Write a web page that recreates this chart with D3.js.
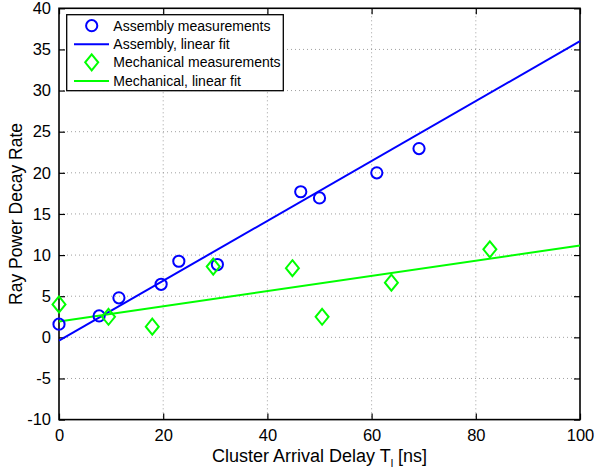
<!DOCTYPE html>
<html>
<head>
<meta charset="utf-8">
<script src="https://cdn.jsdelivr.net/npm/d3@7"></script>
<style>
  body { margin: 0; background: #fff; }
  text { font-family: "Liberation Sans", Arial, sans-serif; }
</style>
</head>
<body>
<svg id="chart"></svg>
<script>
// Assembly measurements (circles)
const assemblyX = [0, 7.7, 11.5, 19.6, 23, 30.4, 46.4, 50, 61, 69.1];
const assemblyY = [1.6, 2.6, 4.8, 6.45, 9.25, 8.85, 17.7, 16.95, 20, 22.95];
// Mechanical measurements (diamonds)
const mechanicalX = [0, 9.5, 17.9, 29.6, 44.8, 50.5, 63.8, 82.7];
const mechanicalY = [4.0, 2.5, 1.3, 8.6, 8.4, 2.5, 6.65, 10.7];
// Linear fits [intercept, slope]
const assemblyFit = [-0.4, 0.364];
const mechanicalFit = [1.92, 0.0925];

const xTicks = [0, 20, 40, 60, 80, 100];
const yTicks = [-10, -5, 0, 5, 10, 15, 20, 25, 30, 35, 40];
const legendLabels = ["Assembly measurements", "Assembly, linear fit",
                      "Mechanical measurements", "Mechanical, linear fit"];

const blue = "#0000ff", green = "#00ff00";

const width = 595, height = 470;
const margin = { top: 8.3, right: 15, bottom: 50.4, left: 59 };
const innerW = width - margin.left - margin.right;
const innerH = height - margin.top - margin.bottom;

const svg = d3.select("#chart").attr("width", width).attr("height", height);
const chart = svg.append("g").attr("transform", `translate(${margin.left},${margin.top})`);

const xScale = d3.scaleLinear().domain([0, 100]).range([0, innerW]);
const yScale = d3.scaleLinear().domain([-10, 40]).range([innerH, 0]);

// Grid lines (dotted)
chart.append("g").selectAll("line.gx")
  .data(xTicks.slice(1, -1))
  .join("line")
  .attr("x1", d => xScale(d)).attr("x2", d => xScale(d))
  .attr("y1", 0).attr("y2", innerH)
  .attr("stroke", "#888").attr("stroke-width", 0.8).attr("stroke-dasharray", "1,3");
chart.append("g").selectAll("line.gy")
  .data(yTicks.slice(1, -1))
  .join("line")
  .attr("x1", 0).attr("x2", innerW)
  .attr("y1", d => yScale(d)).attr("y2", d => yScale(d))
  .attr("stroke", "#888").attr("stroke-width", 0.8).attr("stroke-dasharray", "1,3");

// Axes, ticks inward (plain hyphen minus like the original)
const plain = d => String(d);
const xAxisB = d3.axisBottom(xScale).tickValues(xTicks).tickSize(-6).tickPadding(10).tickFormat(plain);
const xAxisT = d3.axisTop(xScale).tickValues(xTicks).tickSize(-6).tickFormat("");
const yAxisL = d3.axisLeft(yScale).tickValues(yTicks).tickSize(-6).tickPadding(8).tickFormat(plain);
const yAxisR = d3.axisRight(yScale).tickValues(yTicks).tickSize(-6).tickFormat("");

function styleAxis(g) {
  g.select(".domain").remove();
  g.selectAll(".tick line").attr("stroke", "#000").attr("stroke-width", 1.2);
  g.selectAll(".tick text").attr("fill", "#000").style("font-size", "16.5px")
    .style("font-family", "'Liberation Sans', Arial, sans-serif");
}
chart.append("g").attr("transform", `translate(0,${innerH})`).call(xAxisB).call(styleAxis);
chart.append("g").call(xAxisT).call(styleAxis);
chart.append("g").call(yAxisL).call(styleAxis);
chart.append("g").attr("transform", `translate(${innerW},0)`).call(yAxisR).call(styleAxis);

// Box
chart.append("rect")
  .attr("x", 0).attr("y", 0).attr("width", innerW).attr("height", innerH)
  .attr("fill", "none").attr("stroke", "#000").attr("stroke-width", 1.6);

// Fit lines
const fitLine = d3.line().x(d => xScale(d[0])).y(d => yScale(d[1]));
function fitPoints(fit) {
  return xScale.domain().map(x => [x, fit[0] + fit[1] * x]);
}
chart.append("path").datum(fitPoints(assemblyFit))
  .attr("d", fitLine).attr("fill", "none").attr("stroke", blue).attr("stroke-width", 2);
chart.append("path").datum(fitPoints(mechanicalFit))
  .attr("d", fitLine).attr("fill", "none").attr("stroke", green).attr("stroke-width", 2);

// Markers
const assemblyData = assemblyX.map((x, i) => ({ x, y: assemblyY[i] }));
const mechanicalData = mechanicalX.map((x, i) => ({ x, y: mechanicalY[i] }));

chart.selectAll(".circ").data(assemblyData).join("circle")
  .attr("class", "circ")
  .attr("cx", d => xScale(d.x)).attr("cy", d => yScale(d.y)).attr("r", 5.6)
  .attr("fill", "none").attr("stroke", blue).attr("stroke-width", 2);

const diamond = "M0,-8 L6.5,0 L0,8 L-6.5,0 Z";
chart.selectAll(".diam").data(mechanicalData).join("path")
  .attr("class", "diam")
  .attr("transform", d => `translate(${xScale(d.x)},${yScale(d.y)})`)
  .attr("d", diamond)
  .attr("fill", "none").attr("stroke", green).attr("stroke-width", 2);

// Legend
const legend = svg.append("g").attr("transform", "translate(66.7,14.7)");
legend.append("rect").attr("width", 216.6).attr("height", 76)
  .attr("fill", "#fff").attr("stroke", "#000").attr("stroke-width", 1.3);
const rowY = [11, 29.6, 47.6, 66.3];
legendLabels.forEach((label, i) => {
  const g = legend.append("g").attr("transform", `translate(0,${rowY[i]})`);
  if (i === 0) {
    g.append("circle").attr("cx", 25).attr("cy", 0).attr("r", 5.6)
      .attr("fill", "none").attr("stroke", blue).attr("stroke-width", 2);
  } else if (i === 2) {
    g.append("path").attr("transform", "translate(25,0)").attr("d", diamond)
      .attr("fill", "none").attr("stroke", green).attr("stroke-width", 2);
  } else {
    g.append("line").attr("x1", 7.3).attr("x2", 42.3).attr("y1", 0).attr("y2", 0)
      .attr("stroke", i === 1 ? blue : green).attr("stroke-width", 2);
  }
  g.append("text").attr("x", 46.6).attr("y", 5)
    .style("font-size", "14px").attr("fill", "#000").text(label);
});

// Axis titles
const xTitle = svg.append("text")
  .attr("x", margin.left + innerW / 2).attr("y", 462)
  .attr("text-anchor", "middle").style("font-size", "18px").attr("fill", "#000");
xTitle.append("tspan").text("Cluster Arrival Delay T");
xTitle.append("tspan").attr("dy", 5).style("font-size", "11px").text("l");
xTitle.append("tspan").attr("dy", -5).text(" [ns]");

svg.append("text")
  .attr("transform", `translate(22,${margin.top + innerH / 2}) rotate(-90)`)
  .attr("text-anchor", "middle").style("font-size", "17.5px").attr("fill", "#000")
  .text("Ray Power Decay Rate");
</script>
</body>
</html>
